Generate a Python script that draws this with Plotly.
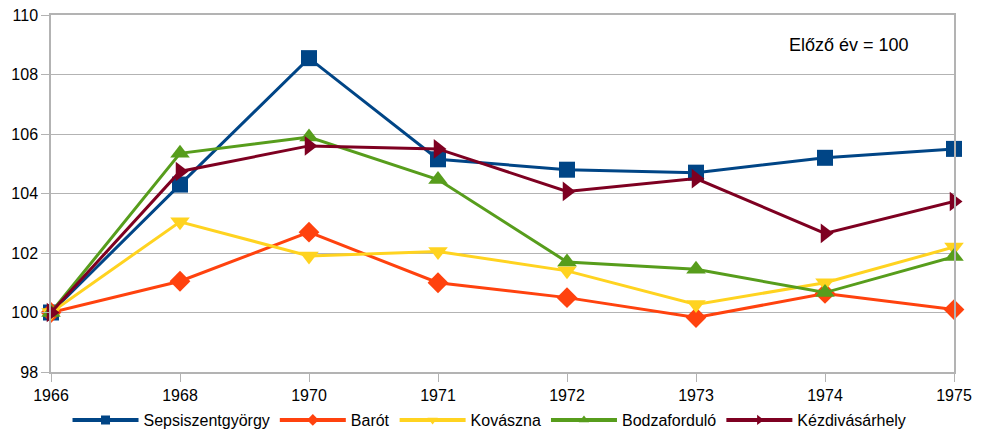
import plotly.graph_objects as go

years = ["1966", "1968", "1970", "1971", "1972", "1973", "1974", "1975"]
sepsiszentgyorgy = [100, 104.3, 108.55, 105.15, 104.8, 104.7, 105.2, 105.5]
barot = [100, 101.05, 102.7, 101.0, 100.5, 99.83, 100.64, 100.1]
kovaszna = [100, 103.05, 101.9, 102.05, 101.4, 100.27, 101.0, 102.2]
bodzafordulo = [100, 105.35, 105.9, 104.47, 101.7, 101.45, 100.67, 101.88]
kezdivasarhely = [100, 104.74, 105.6, 105.5, 104.07, 104.5, 102.66, 103.73]

series = [
    ("Sepsiszentgyörgy", sepsiszentgyorgy, "#004586", "square", 16),
    ("Barót", barot, "#ff420e", "diamond", 16),
    ("Kovászna", kovaszna, "#ffd320", "triangle-down", 17),
    ("Bodzaforduló", bodzafordulo, "#579d1c", "triangle-up", 17),
    ("Kézdivásárhely", kezdivasarhely, "#7e0021", "triangle-right", 17),
]

fig = go.Figure()
for name, vals, color, sym, size in series:
    fig.add_trace(go.Scatter(
        x=years, y=vals, name=name, mode="lines+markers",
        line=dict(color=color, width=3),
        marker=dict(symbol=sym, size=size, color=color),
        cliponaxis=False, legendgroup=name, showlegend=False,
    ))
for name, vals, color, sym, size in series:
    fig.add_trace(go.Scatter(
        x=[None], y=[None], name=name, mode="lines+markers",
        line=dict(color=color, width=4),
        marker=dict(symbol=sym, size=9, color=color),
        legendgroup=name, showlegend=True,
    ))

fig.update_layout(
    width=981, height=433,
    margin=dict(l=51, r=27, t=15, b=61),
    plot_bgcolor="white", paper_bgcolor="white",
    font=dict(family="Liberation Sans, Arial, sans-serif", size=15, color="#000"),
    showlegend=True,
    legend=dict(orientation="h", x=0.499, xanchor="center", xref="container",
                y=0.03, yanchor="middle", yref="container",
                font=dict(size=16), itemwidth=66, tracegroupgap=0),
    xaxis=dict(type="category", range=[0, 7], showgrid=False, automargin=False,
               showline=True, linecolor="#b3b3b3", linewidth=1.5, mirror=True,
               ticks="outside", tickcolor="#b3b3b3", ticklen=8,
               tickfont=dict(size=16)),
    yaxis=dict(range=[98, 110], dtick=2, showgrid=True, gridcolor="#b3b3b3",
               automargin=False,
               showline=True, linecolor="#b3b3b3", linewidth=1.5, mirror=True,
               ticks="outside", tickcolor="#b3b3b3", ticklen=8,
               zeroline=False, tickfont=dict(size=16)),
    annotations=[dict(text="Előző év = 100", x=0.884, xref="paper", y=0.916, yref="paper",
                      xanchor="center", yanchor="middle", showarrow=False,
                      font=dict(size=18))],
)

fig.write_html("out.html", config={"displayModeBar": False},
               post_script="document.body.style.margin='0';document.body.style.overflow='hidden';")
